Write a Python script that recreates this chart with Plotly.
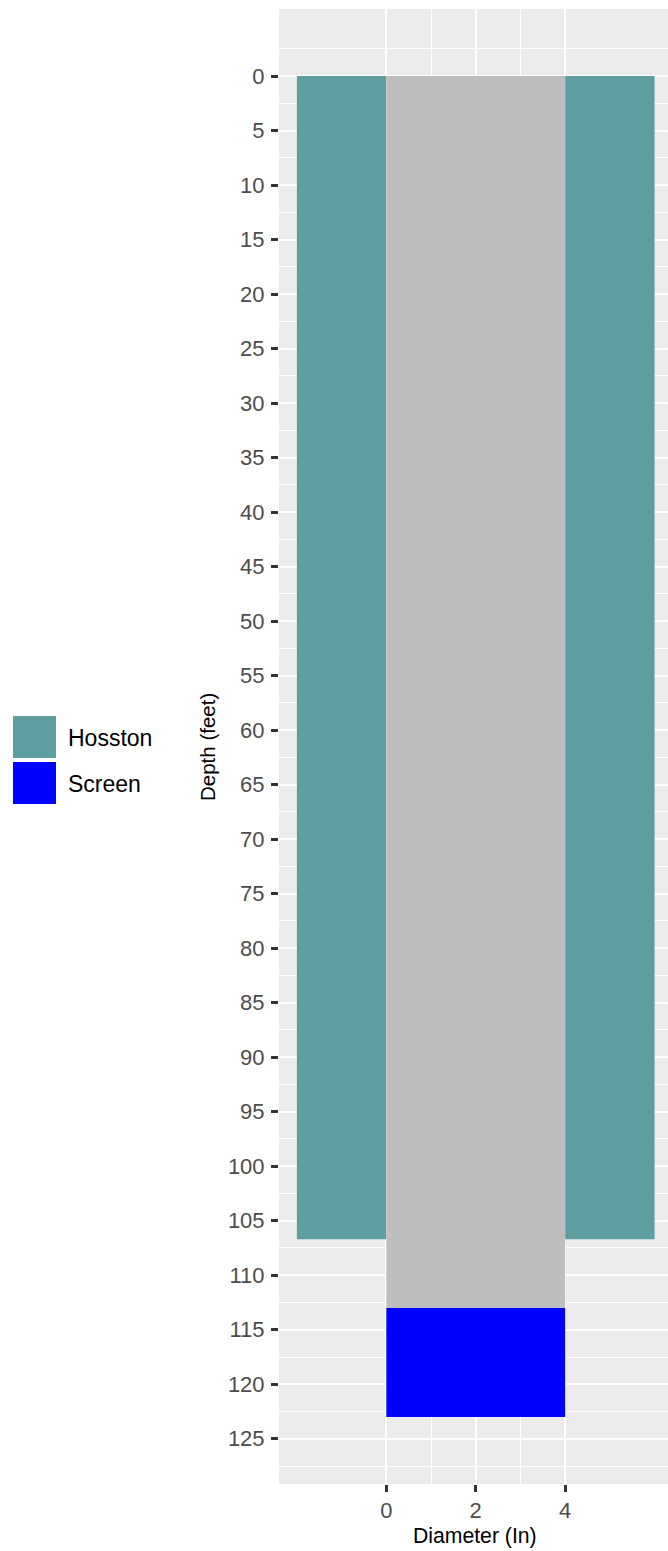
import plotly.graph_objects as go

# ---- data ----
layer_names = ["Hosston", "Hosston", "Casing", "Screen"]
x_left = [-2, 4, 0, 0]
x_right = [0, 6, 4, 4]
depth_top = [0, 0, 0, 113]
depth_bottom = [106.7, 106.7, 113, 123]
layer_colors = {"Hosston": "#5F9EA0", "Casing": "#BEBEBE", "Screen": "#0000FF"}
legend_names = ["Hosston", "Screen"]

y_ticks = list(range(0, 126, 5))
y_minor = [v + 2.5 for v in range(-10, 130, 5)]
x_ticks = [0, 2, 4]
x_minor = [1, 3]

W, H = 668, 1551
L, T, B = 279, 9, 67
PW = W - L
PH = H - T - B

fig = go.Figure()
for name, x0, x1, y0, y1 in zip(layer_names, x_left, x_right, depth_top, depth_bottom):
    fig.add_trace(go.Scatter(
        x=[x0, x1, x1, x0, x0], y=[y0, y0, y1, y1, y0],
        fill="toself", fillcolor=layer_colors[name], mode="lines",
        line=dict(width=0, color=layer_colors[name]),
        showlegend=False, hoverinfo="skip"))

def px_x(px):
    return (px - L) / PW

def px_y(py):
    return (H - B - py) / PH

# manual legend (ggplot style keys)
key_top = 716
for i, name in enumerate(legend_names):
    y0 = key_top + i * 46
    fig.add_shape(type="rect", xref="paper", yref="paper",
                  x0=px_x(13), x1=px_x(56), y0=px_y(y0 + 42), y1=px_y(y0),
                  fillcolor=layer_colors[name], line=dict(width=0))
    fig.add_annotation(text=name, xref="paper", yref="paper",
                       x=px_x(66), y=px_y(y0 + 22), xanchor="left", yanchor="middle",
                       showarrow=False, font=dict(size=23, color="#000000"))

fig.add_annotation(text="Depth (feet)", xref="paper", yref="paper",
                   x=px_x(207), y=px_y(747), textangle=-90, xanchor="center", yanchor="middle",
                   showarrow=False, font=dict(size=20.5, color="#000000"))
fig.add_annotation(text="Diameter (In)", xref="paper", yref="paper",
                   x=px_x(475), y=px_y(1536), xanchor="center", yanchor="middle",
                   showarrow=False, font=dict(size=21.2, color="#000000"))

axis_common = dict(showline=False, zeroline=False, ticks="outside", ticklen=7, tickwidth=2.5,
                   tickcolor="#333333", gridcolor="#FFFFFF", gridwidth=2.1,
                   tickfont=dict(size=22, color="#4D4D4D"))

fig.update_xaxes(range=[-2.4, 6.3], tickmode="array", tickvals=x_ticks,
                 ticktext=[str(v) for v in x_ticks],
                 minor=dict(tickmode="array", tickvals=x_minor, showgrid=True,
                            gridcolor="#FFFFFF", gridwidth=1, ticks=""),
                 ticklabelstandoff=0, **axis_common)
fig.update_yaxes(range=[129.15, -6.15], tickmode="array", tickvals=y_ticks,
                 ticktext=[str(v) for v in y_ticks],
                 minor=dict(tickmode="array", tickvals=y_minor, showgrid=True,
                            gridcolor="#FFFFFF", gridwidth=1, ticks=""),
                 ticklabelstandoff=2, **axis_common)

fig.update_layout(width=W, height=H, margin=dict(l=L, r=0, t=T, b=B, pad=0),
                  plot_bgcolor="#EBEBEB", paper_bgcolor="#FFFFFF",
                  font=dict(family="Liberation Sans, Arial, sans-serif"),
                  showlegend=False)

fig.write_html("out.html", config={"displayModeBar": False},
               post_script="document.body.style.margin='0';document.body.style.overflow='hidden';")
